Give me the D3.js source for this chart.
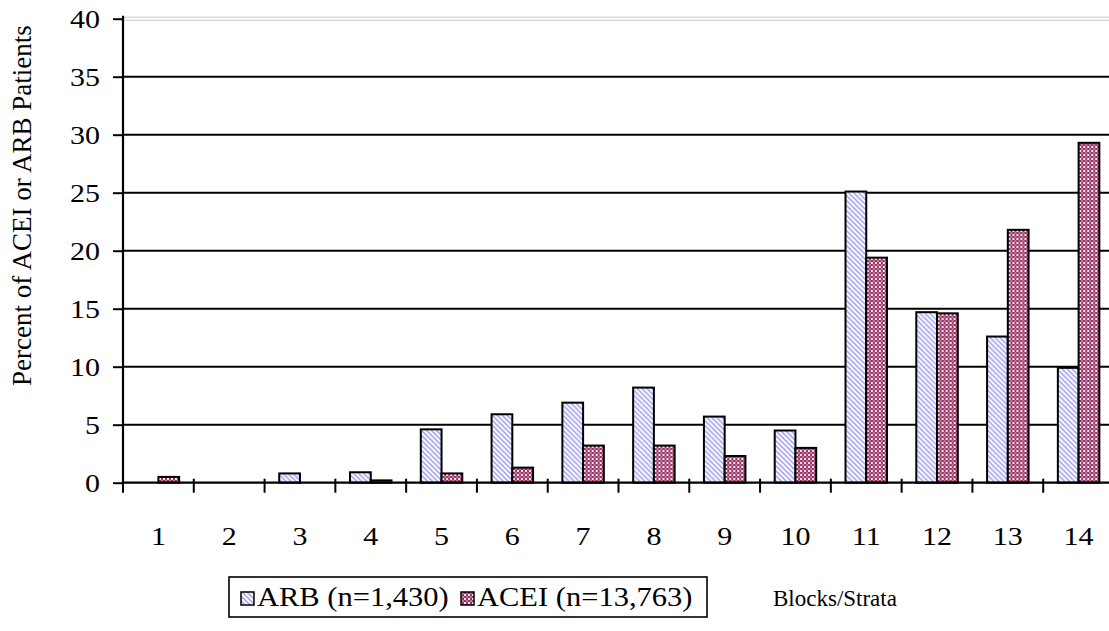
<!DOCTYPE html>
<html>
<head>
<meta charset="utf-8">
<script src="https://cdn.jsdelivr.net/npm/d3@7"></script>
<style>
  body { margin: 0; background: #fff; }
  text { font-family: "Liberation Serif", "Times New Roman", serif; fill: #000; }
</style>
</head>
<body>
<div id="chart"></div>
<script>
// data
var categories = ["1","2","3","4","5","6","7","8","9","10","11","12","13","14"];
var seriesNames = ["ARB (n=1,430)", "ACEI (n=13,763)"];
var arbValues  = [0, 0, 0.8, 0.9, 4.6, 5.9, 6.9, 8.2, 5.7, 4.5, 25.1, 14.7, 12.6, 9.9];
var aceiValues = [0.5, 0, 0, 0.2, 0.8, 1.3, 3.2, 3.2, 2.3, 3.0, 19.4, 14.6, 21.8, 29.3];
var yTicks = [0, 5, 10, 15, 20, 25, 30, 35, 40];
var yTitle = "Percent of ACEI or ARB Patients";
var xTitle = "Blocks/Strata";

drawChart();

function drawChart(){
  var w = 1109, h = 631;
  var plotLeft = 123, plotRight = 1114, plotTop = 18.7, plotBottom = 482.7;

  var svg = d3.select("#chart").append("svg")
      .attr("width", w).attr("height", h);

  var defs = svg.append("defs");
  // ARB: light blue diagonal hatching
  var p1 = defs.append("pattern").attr("id", "arbFill")
      .attr("patternUnits", "userSpaceOnUse").attr("width", 5).attr("height", 5);
  p1.append("rect").attr("width", 5).attr("height", 5).attr("fill", "#fff");
  p1.append("path").attr("d", "M-1,-1 L6,6 M-1,4 L1,6 M4,-1 L6,1")
      .attr("stroke", "#a8a8f4").attr("stroke-width", 1.6);
  // ACEI: small magenta checker
  var p2 = defs.append("pattern").attr("id", "aceiFill")
      .attr("patternUnits", "userSpaceOnUse").attr("width", 4).attr("height", 4);
  p2.append("rect").attr("width", 4).attr("height", 4).attr("fill", "#f7e6ee");
  p2.append("rect").attr("width", 2).attr("height", 2).attr("fill", "#993366");
  p2.append("rect").attr("x", 2).attr("y", 2).attr("width", 2).attr("height", 2).attr("fill", "#993366");
  p2.append("rect").attr("x", 2).attr("y", 0).attr("width", 2).attr("height", 2).attr("fill", "#c07898");
  var fills = ["url(#arbFill)", "url(#aceiFill)"];

  var xScale = d3.scaleBand().domain(categories).range([plotLeft, plotRight]).padding(0);
  var x1 = d3.scaleBand().domain(seriesNames).range([0, xScale.bandwidth()]).paddingOuter(0.706).paddingInner(0);
  var yScale = d3.scaleLinear().domain([0, 40]).range([plotBottom, plotTop]);

  // plot area top border (light grey double line)
  [-1.5, 1.5].forEach(function(off){
    svg.append("line").attr("x1", plotLeft).attr("x2", w)
        .attr("y1", yScale(40) + off).attr("y2", yScale(40) + off)
        .attr("stroke", "#c8c8c8").attr("stroke-width", 1);
  });

  // gridlines
  svg.append("g").selectAll("line")
      .data(yTicks.filter(function(d){ return d > 0 && d < 40; }))
      .enter().append("line")
      .attr("x1", plotLeft).attr("x2", w)
      .attr("y1", function(d){ return yScale(d); })
      .attr("y2", function(d){ return yScale(d); })
      .attr("stroke", "#000").attr("stroke-width", 2);

  // bars
  var rows = categories.map(function(c, i){ return {cat: c, vals: [arbValues[i], aceiValues[i]]}; });
  var groups = svg.append("g").selectAll("g").data(rows).enter().append("g")
      .attr("transform", function(d){ return "translate(" + xScale(d.cat) + ",0)"; });
  groups.selectAll("rect")
      .data(function(d){
        return d.vals.map(function(v, k){ return {name: seriesNames[k], k: k, v: v}; })
                     .filter(function(e){ return e.v > 0; });
      })
      .enter().append("rect")
      .attr("x", function(d){ return x1(d.name); })
      .attr("width", x1.bandwidth())
      .attr("y", function(d){ return yScale(d.v); })
      .attr("height", function(d){ return yScale(0) - yScale(d.v); })
      .attr("fill", function(d){ return fills[d.k]; })
      .attr("stroke", "#000").attr("stroke-width", 2);

  // y axis
  var yAxis = d3.axisLeft(yScale).tickValues(yTicks).tickSize(10);
  var yg = svg.append("g").attr("transform", "translate(" + plotLeft + ",0)").call(yAxis);
  yg.select(".domain").attr("stroke", "#000").attr("stroke-width", 2.2)
      .attr("d", "M0," + (plotTop - 3) + "V" + plotBottom);
  yg.selectAll(".tick line").attr("stroke", "#000").attr("stroke-width", 2);
  yg.selectAll(".tick text")
      .attr("x", null).attr("dy", "0.34em")
      .attr("transform", "translate(-23,0) scale(1.2,1)")
      .style("font-size", "25px");

  // x axis
  var xAxis = d3.axisBottom(xScale).tickSize(0).tickPadding(0);
  var xg = svg.append("g").attr("transform", "translate(0," + plotBottom + ")").call(xAxis);
  xg.select(".domain").attr("stroke", "#000").attr("stroke-width", 2.2)
      .attr("d", "M" + plotLeft + ",0H" + w);
  xg.selectAll(".tick text")
      .attr("y", null).attr("dy", null)
      .attr("transform", "translate(0,62) scale(1.2,1)")
      .style("font-size", "25px");
  // ticks at the category boundaries
  xg.append("g").selectAll("line")
      .data(categories.concat(["end"]))
      .enter().append("line")
      .attr("x1", function(d){ return d === "end" ? plotRight : xScale(d); })
      .attr("x2", function(d){ return d === "end" ? plotRight : xScale(d); })
      .attr("y1", -4).attr("y2", 10)
      .attr("stroke", "#000").attr("stroke-width", 2);

  // y title
  svg.append("text")
      .attr("transform", "translate(31," + ((plotTop + plotBottom) / 2 - 45) + ") rotate(-90)")
      .attr("text-anchor", "middle")
      .style("font-size", "27px")
      .text(yTitle);

  // legend
  var legend = svg.append("g");
  legend.append("rect").attr("x", 229).attr("y", 577).attr("width", 478).attr("height", 40)
      .attr("fill", "#fff").attr("stroke", "#000").attr("stroke-width", 1.6);
  var legX = [241, 461];
  seriesNames.forEach(function(name, k){
    legend.append("rect").attr("x", legX[k]).attr("y", 592).attr("width", 13).attr("height", 13)
        .attr("fill", fills[k]).attr("stroke", "#000").attr("stroke-width", 1.5);
    legend.append("text")
        .attr("transform", "translate(" + (legX[k] + 16) + ",606) scale(1.13,1)")
        .style("font-size", "27px")
        .text(name);
  });

  svg.append("text").attr("x", 773).attr("y", 606)
      .style("font-size", "23px")
      .text(xTitle);
}
</script>
</body>
</html>
